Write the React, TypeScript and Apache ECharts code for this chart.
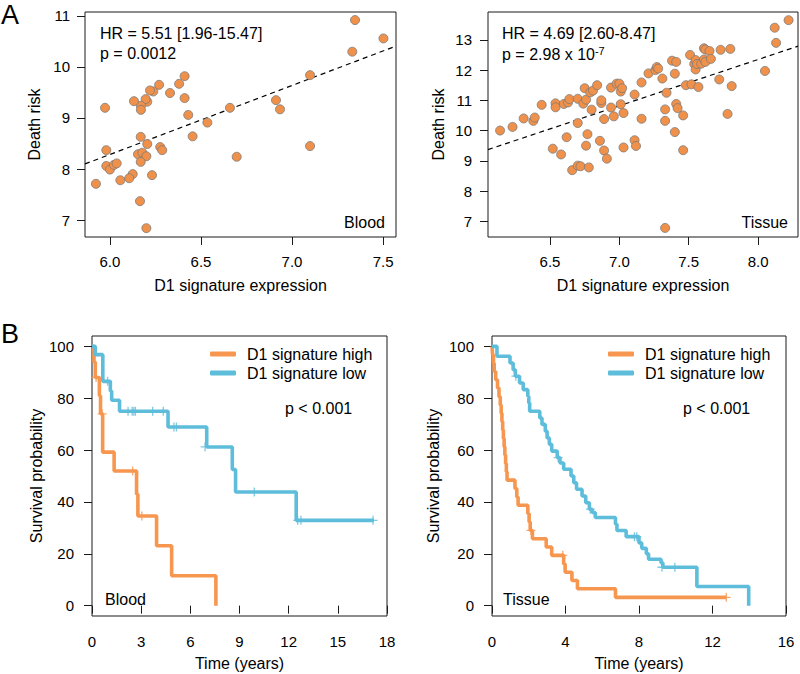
import React, { useEffect, useRef } from "react";
import * as echarts from "echarts";

const FONT = "'Liberation Sans', Arial, Helvetica, sans-serif";

// ---------- Panel A: scatter data ([expression, death risk]) ----------
const bloodPoints: number[][] = [
  [7.346, 10.92], [7.331, 10.3], [7.502, 10.56], [7.099, 9.84], [6.912, 9.35], [6.934, 9.17],
  [7.099, 8.45], [6.659, 9.2], [6.535, 8.91], [6.696, 8.24], [6.454, 8.64], [6.43, 9.06],
  [6.41, 9.39], [6.41, 9.82], [6.38, 9.67], [6.33, 9.49], [6.27, 9.65], [6.238, 9.52],
  [6.22, 9.54], [6.205, 9.32], [6.196, 9.37], [6.17, 9.24], [6.17, 9.16], [6.132, 9.33],
  [5.973, 9.2], [6.169, 8.63], [6.205, 8.49], [6.276, 8.43], [6.287, 8.37], [5.98, 8.37],
  [6.154, 8.29], [6.178, 8.32], [6.2, 8.25], [6.169, 8.14], [5.98, 8.06], [6.0, 7.99],
  [6.022, 8.08], [6.037, 8.11], [6.125, 7.9], [6.106, 7.82], [6.231, 7.88], [6.057, 7.78],
  [5.923, 7.71], [6.165, 7.37], [6.2, 6.84],
];
const tissuePoints: number[][] = [
  [6.14, 10.0], [6.23, 10.12], [6.31, 10.4], [6.38, 10.32], [6.39, 10.43], [6.44, 10.85],
  [6.52, 9.4], [6.54, 10.9], [6.54, 10.77], [6.58, 9.21], [6.6, 10.88], [6.62, 9.78],
  [6.63, 10.93], [6.64, 11.04], [6.66, 8.69], [6.7, 11.05], [6.7, 10.25], [6.7, 8.84],
  [6.72, 8.82], [6.74, 10.89], [6.75, 11.4], [6.76, 11.02], [6.76, 9.5], [6.77, 9.88],
  [6.78, 8.78], [6.8, 10.69], [6.79, 11.26], [6.81, 11.32], [6.84, 11.5], [6.87, 10.91],
  [6.87, 11.0], [6.89, 10.38], [6.86, 9.66], [6.89, 9.34], [6.91, 9.07], [6.94, 11.42],
  [6.94, 10.76], [6.96, 10.47], [6.98, 11.55], [7.0, 11.55], [7.01, 11.29], [7.02, 11.4],
  [7.01, 10.87], [7.03, 10.58], [7.03, 9.44], [7.11, 11.19], [7.11, 9.68], [7.12, 9.49],
  [7.16, 10.39], [7.16, 11.59], [7.21, 11.89], [7.26, 12.0], [7.27, 12.1], [7.28, 12.05],
  [7.31, 11.72], [7.33, 10.7], [7.33, 10.32], [7.34, 11.25], [7.33, 6.78], [7.38, 12.31],
  [7.41, 12.27], [7.4, 11.88], [7.4, 9.95], [7.41, 10.88], [7.42, 10.74], [7.46, 10.5],
  [7.46, 9.35], [7.48, 11.5], [7.51, 12.5], [7.52, 11.53], [7.54, 12.2], [7.55, 12.33],
  [7.55, 12.02], [7.56, 12.2], [7.57, 11.44], [7.59, 12.21], [7.61, 12.35], [7.62, 12.27],
  [7.61, 12.72], [7.62, 12.68], [7.65, 12.63], [7.66, 12.37], [7.72, 11.69], [7.73, 12.67],
  [7.78, 10.55], [7.8, 12.7], [7.81, 11.47], [8.05, 11.97], [8.12, 13.4], [8.13, 12.9],
  [8.22, 13.65],
];
const bloodFit: number[][] = [[5.863, 8.1], [7.571, 10.41]];
const tissueFit: number[][] = [[6.053, 9.37], [8.288, 12.79]];

const bloodXTicks = [6.0, 6.5, 7.0, 7.5];
const bloodYTicks = [7, 8, 9, 10, 11];
const tissueXTicks = [6.5, 7.0, 7.5, 8.0];
const tissueYTicks = [7, 8, 9, 10, 11, 12, 13];

// ---------- Panel B: Kaplan-Meier data ([time, survival %]) ----------
const bloodHigh: number[][] = [
  [0, 100], [0.12, 94], [0.2, 88], [0.45, 81], [0.52, 74], [0.65, 59.2], [1.35, 51.9],
  [2.72, 43], [2.8, 34.6], [3.94, 23.1], [4.86, 11.5], [7.56, 0],
];
const bloodHighCensor: number[][] = [[0.25, 88], [0.62, 74], [2.48, 51.9], [3.04, 34.6]];
const bloodLow: number[][] = [
  [0, 100], [0.2, 96.8], [0.66, 86.5], [1.12, 82.8], [1.2, 79.2], [1.68, 75], [4.64, 68.9],
  [7.0, 61.2], [8.56, 52.5], [8.76, 43.8], [12.46, 32.9], [17.2, 32.9],
];
const bloodLowCensor: number[][] = [
  [0.95, 86.5], [2.2, 75], [2.45, 75], [2.55, 75], [2.65, 75], [3.7, 75], [4.35, 75],
  [5.0, 68.9], [5.15, 68.9], [6.9, 61.2], [9.9, 43.8], [12.55, 32.9], [12.75, 32.9], [17.15, 32.9],
];
const tissueHigh: number[][] = [
  [0, 100], [0.03, 96.8], [0.08, 93.5], [0.12, 90.3], [0.2, 87.1], [0.3, 83.9], [0.38, 80.6],
  [0.45, 77.4], [0.5, 74.2], [0.54, 71], [0.58, 67.7], [0.62, 64.5], [0.66, 61.3], [0.7, 58.1],
  [0.74, 54.8], [0.78, 51.6], [0.82, 48.4], [1.25, 45.2], [1.35, 41.9], [1.42, 38.7],
  [1.95, 35.5], [2.02, 32.3], [2.08, 29], [2.2, 25.8], [2.95, 22.6], [3.25, 19.4], [3.9, 16.1],
  [3.98, 12.9], [4.35, 9.7], [4.65, 6.5], [6.72, 3.2], [12.75, 3.2],
];
const tissueHighCensor: number[][] = [[2.12, 29], [3.85, 19.4], [12.75, 3.2]];
const tissueLow: number[][] = [
  [0, 100], [0.27, 96.2], [0.98, 93.6], [1.15, 91.0], [1.27, 88.5], [1.5, 85.9], [1.7, 83.3],
  [1.95, 80.8], [2.0, 78.2], [2.05, 75.0], [2.6, 72.4], [2.72, 69.9], [2.9, 67.3], [3.0, 64.7],
  [3.12, 62.2], [3.25, 59.6], [3.55, 57.1], [3.7, 55.0], [3.9, 52.6], [4.3, 50.0], [4.45, 47.4],
  [4.6, 44.9], [4.9, 42.3], [5.1, 39.7], [5.3, 37.2], [5.45, 35.9], [5.62, 34.0], [6.72, 31.4],
  [6.8, 29.0], [7.3, 26.6], [8.0, 24.2], [8.15, 22.1], [8.4, 20.0], [8.52, 17.9], [9.2, 16.5],
  [9.3, 14.8], [11.15, 7.4], [13.97, 0],
];
const tissueLowCensor: number[][] = [
  [1.3, 88.5], [3.6, 57.1], [5.35, 37.2], [7.75, 26.6], [7.88, 26.6], [9.25, 14.8], [9.95, 14.8],
];
const survTicks = [0, 20, 40, 60, 80, 100];
const legendNames = ["D1 signature high", "D1 signature low"];

const ORANGE = "#F7964F";
const BLUE = "#5EBDDA";
const PT_FILL = "#F0914B";
const INK = "#1a1a1a";

function baseAxis(extra: any) {
  return {
    type: "value",
    splitLine: { show: false },
    axisLine: { show: false },
    axisTick: { show: true, inside: false, length: 8, lineStyle: { color: INK, width: 1 } },
    nameTextStyle: { fontSize: 16, color: "#000", fontFamily: FONT },
    ...extra,
    axisLabel: { color: "#000", fontSize: 15, fontFamily: FONT, ...(extra.axisLabel || {}) },
  };
}

const CROSS = "path://M5,0L5,10M0,5L10,5";

function censor(name: string, data: number[][], idx: number, color: string) {
  return {
    name,
    type: "scatter",
    xAxisIndex: idx,
    yAxisIndex: idx,
    data,
    symbol: CROSS,
    symbolSize: 9,
    itemStyle: { color: "rgba(0,0,0,0)", borderColor: color, borderWidth: 1.3 },
    z: 4,
  };
}

function km(name: string, data: number[][], idx: number, color: string) {
  return {
    name,
    type: "line",
    xAxisIndex: idx,
    yAxisIndex: idx,
    data,
    step: "end",
    showSymbol: false,
    symbol: "none",
    color,
    lineStyle: { color, width: 3.6 },
    z: 3,
  };
}

export default function App() {
  const ref = useRef<HTMLDivElement>(null);
  useEffect(() => {
    if (!ref.current) return;
    const chart = echarts.init(ref.current, undefined, { renderer: "svg" });
    const gridBox = { show: true, borderColor: INK, borderWidth: 1, backgroundColor: "transparent" };
    const option: any = {
      animation: false,
      textStyle: { fontFamily: FONT },
      grid: [
        { ...gridBox, left: 85, top: 12, width: 311, height: 225 },
        { ...gridBox, left: 488, top: 12, width: 310, height: 225 },
        { ...gridBox, left: 92, top: 336, width: 295, height: 280 },
        { ...gridBox, left: 492, top: 336, width: 294, height: 280 },
      ],
      xAxis: [
        baseAxis({
          gridIndex: 0, min: 5.863, max: 7.571,
          name: "D1 signature expression", nameLocation: "middle", nameGap: 40,
          axisTick: { show: true, length: 8, customValues: bloodXTicks, lineStyle: { color: INK } },
          axisLabel: { customValues: bloodXTicks, margin: 17, formatter: (v: number) => v.toFixed(1) },
        }),
        baseAxis({
          gridIndex: 1, min: 6.053, max: 8.288,
          name: "D1 signature expression", nameLocation: "middle", nameGap: 40,
          axisTick: { show: true, length: 8, customValues: tissueXTicks, lineStyle: { color: INK } },
          axisLabel: { customValues: tissueXTicks, margin: 17, formatter: (v: number) => v.toFixed(1) },
        }),
        baseAxis({
          gridIndex: 2, min: 0, max: 18, interval: 3,
          name: "Time (years)", nameLocation: "middle", nameGap: 39,
          axisLabel: { margin: 18 },
        }),
        baseAxis({
          gridIndex: 3, min: 0, max: 16, interval: 4,
          name: "Time (years)", nameLocation: "middle", nameGap: 39,
          axisLabel: { margin: 18 },
        }),
      ],
      yAxis: [
        baseAxis({
          gridIndex: 0, min: 6.667, max: 11.078,
          name: "Death risk", nameLocation: "middle", nameGap: 43,
          axisTick: { show: true, length: 8, customValues: bloodYTicks, lineStyle: { color: INK } },
          axisLabel: { customValues: bloodYTicks, margin: 15 },
        }),
        baseAxis({
          gridIndex: 1, min: 6.48, max: 13.92,
          name: "Death risk", nameLocation: "middle", nameGap: 42,
          axisTick: { show: true, length: 8, customValues: tissueYTicks, lineStyle: { color: INK } },
          axisLabel: { customValues: tissueYTicks, margin: 16 },
        }),
        baseAxis({
          gridIndex: 2, min: -4, max: 104,
          name: "Survival probability", nameLocation: "middle", nameGap: 48,
          axisTick: { show: true, length: 8, customValues: survTicks, lineStyle: { color: INK } },
          axisLabel: { customValues: survTicks, margin: 18 },
        }),
        baseAxis({
          gridIndex: 3, min: -4, max: 104,
          name: "Survival probability", nameLocation: "middle", nameGap: 51,
          axisTick: { show: true, length: 8, customValues: survTicks, lineStyle: { color: INK } },
          axisLabel: { customValues: survTicks, margin: 18 },
        }),
      ],
      legend: [
        {
          left: 210, top: 346, orient: "vertical", padding: 0, itemGap: 3,
          itemWidth: 26, itemHeight: 5, icon: "roundRect", selectedMode: false,
          data: legendNames,
          textStyle: { fontSize: 16, color: "#000", fontFamily: FONT, padding: [0, 0, 0, 6] },
        },
        {
          left: 608, top: 346, orient: "vertical", padding: 0, itemGap: 3,
          itemWidth: 26, itemHeight: 5, icon: "roundRect", selectedMode: false,
          data: legendNames,
          textStyle: { fontSize: 16, color: "#000", fontFamily: FONT, padding: [0, 0, 0, 6] },
        },
      ],
      series: [
        {
          name: "bloodFit", type: "line", xAxisIndex: 0, yAxisIndex: 0, data: bloodFit,
          symbol: "none", lineStyle: { color: "#000", width: 1.2, type: [5, 4] }, z: 2,
        },
        {
          name: "tissueFit", type: "line", xAxisIndex: 1, yAxisIndex: 1, data: tissueFit,
          symbol: "none", lineStyle: { color: "#000", width: 1.2, type: [5, 4] }, z: 2,
        },
        {
          name: "bloodScatter", type: "scatter", xAxisIndex: 0, yAxisIndex: 0, data: bloodPoints,
          symbolSize: 9, itemStyle: { color: PT_FILL, borderColor: "#7a7a7a", borderWidth: 0.8, opacity: 1 }, z: 3,
        },
        {
          name: "tissueScatter", type: "scatter", xAxisIndex: 1, yAxisIndex: 1, data: tissuePoints,
          symbolSize: 9, itemStyle: { color: PT_FILL, borderColor: "#7a7a7a", borderWidth: 0.8, opacity: 1 }, z: 3,
        },
        km("D1 signature high", bloodHigh, 2, ORANGE),
        km("D1 signature low", bloodLow, 2, BLUE),
        censor("bloodHighCensor", bloodHighCensor, 2, ORANGE),
        censor("bloodLowCensor", bloodLowCensor, 2, BLUE),
        km("D1 signature high", tissueHigh, 3, ORANGE),
        km("D1 signature low", tissueLow, 3, BLUE),
        censor("tissueHighCensor", tissueHighCensor, 3, ORANGE),
        censor("tissueLowCensor", tissueLowCensor, 3, BLUE),
      ],
      graphic: [
        { type: "text", left: 1, top: 1, style: { text: "A", fontSize: 27, fill: "#000", fontFamily: FONT } },
        { type: "text", left: 1, top: 320, style: { text: "B", fontSize: 27, fill: "#000", fontFamily: FONT } },
        { type: "text", x: 100, y: 25, style: { text: "HR = 5.51 [1.96-15.47]", fontSize: 16, fill: "#000", fontFamily: FONT } },
        { type: "text", x: 100, y: 45, style: { text: "p = 0.0012", fontSize: 16, fill: "#000", fontFamily: FONT } },
        { type: "text", x: 502, y: 25, style: { text: "HR = 4.69 [2.60-8.47]", fontSize: 16, fill: "#000", fontFamily: FONT } },
        {
          type: "text", x: 502, y: 45,
          style: {
            text: "{n|p = 2.98 x 10}{s|-7}",
            fontFamily: FONT,
            rich: {
              n: { fontSize: 16, fill: "#000", color: "#000", fontFamily: FONT },
              s: { fontSize: 11, fill: "#000", color: "#000", fontFamily: FONT, verticalAlign: "top", padding: [0, 0, 8, 0] },
            },
          },
        },
        { type: "text", x: 385, y: 222, style: { text: "Blood", fontSize: 16, fill: "#000", fontFamily: FONT, align: "right", verticalAlign: "middle" } },
        { type: "text", x: 788, y: 222, style: { text: "Tissue", fontSize: 16, fill: "#000", fontFamily: FONT, align: "right", verticalAlign: "middle" } },
        { type: "text", x: 285, y: 408, style: { text: "p < 0.001", fontSize: 16, fill: "#000", fontFamily: FONT, verticalAlign: "middle" } },
        { type: "text", x: 683, y: 408, style: { text: "p < 0.001", fontSize: 16, fill: "#000", fontFamily: FONT, verticalAlign: "middle" } },
        { type: "text", x: 105, y: 599, style: { text: "Blood", fontSize: 16, fill: "#000", fontFamily: FONT, verticalAlign: "middle" } },
        { type: "text", x: 503, y: 599, style: { text: "Tissue", fontSize: 16, fill: "#000", fontFamily: FONT, verticalAlign: "middle" } },
      ],
    };
    chart.setOption(option);
    return () => chart.dispose();
  }, []);
  return (
    <div
      ref={ref}
      style={{ position: "fixed", left: 0, top: 0, width: 800, height: 674, background: "#fff" }}
    />
  );
}
